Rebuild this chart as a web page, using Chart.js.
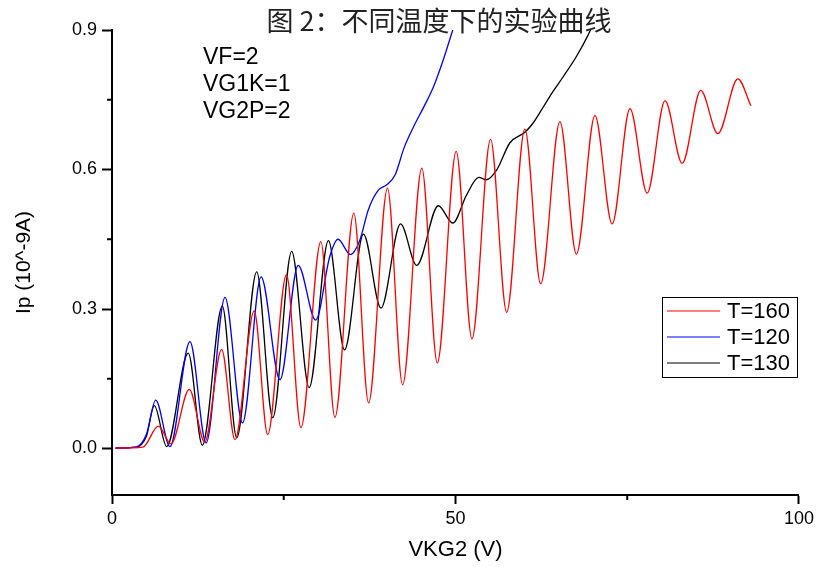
<!DOCTYPE html>
<html>
<head>
<meta charset="utf-8">
<script src="https://cdn.jsdelivr.net/npm/chart.js@4"></script>
<style>
  body { margin: 0; background: #fff; }
  #wrap { width: 818px; height: 567px; }
</style>
</head>
<body>
<div id="wrap"><canvas id="fhChart" width="818" height="567"></canvas></div>
<script>
var titleText = "图 2：不同温度下的实验曲线";
var notes = ["VF=2", "VG1K=1", "VG2P=2"];
var seriesLabels = ["T=160", "T=120", "T=130"];
var seriesColors = ["#ff0000", "#0000ff", "#000000"];
var legendColors = ["rgba(255,0,0,0.5)", "rgba(0,0,255,0.5)", "rgba(0,0,0,0.5)"];

// T=160
var redX = [0.5, 4.5, 6.74, 8.6, 11.25, 13.5, 15.96, 17.9, 20.7, 22.66, 25.4, 27.5, 30.4, 32.45, 35.2, 37.35,
  40.1, 42.3, 45.1, 47.35, 50.1, 52.4, 55.1, 57.45, 60.1, 62.4, 65.2, 67.6, 70.3, 72.8, 75.4, 77.9,
  80.5, 83.0, 85.7, 88.2, 91.1, 93.0];
var redY = [0.001, 0.003, 0.048, 0.010, 0.127, 0.014, 0.213, 0.019, 0.296, 0.030, 0.374, 0.045, 0.445, 0.067, 0.506, 0.098,
  0.560, 0.137, 0.603, 0.184, 0.639, 0.236, 0.665, 0.293, 0.687, 0.354, 0.703, 0.418, 0.716, 0.483, 0.731, 0.549,
  0.748, 0.613, 0.770, 0.677, 0.795, 0.737];

// T=120
var blueX = [0.5, 3.5, 5.0, 6.36, 8.44, 11.35, 13.7, 16.45, 19.0, 21.7, 24.45, 27.1, 29.65, 31.7, 32.9, 34.7,
  36.1, 37.3, 38.8, 40.0, 41.2, 42.5, 43.9, 45.3, 46.8, 48.2, 49.6];
var blueY = [0.001, 0.003, 0.030, 0.104, 0.004, 0.230, 0.012, 0.325, 0.055, 0.369, 0.148, 0.394, 0.276, 0.413, 0.450, 0.417,
  0.449, 0.513, 0.556, 0.567, 0.588, 0.646, 0.692, 0.732, 0.778, 0.835, 0.900];

// T=130
var blackX = [0.5, 3.5, 5.0, 6.16, 7.96, 11.1, 13.15, 16.06, 18.15, 21.06, 23.4, 26.15, 28.7, 31.5, 33.85, 36.6,
  39.15, 42.0, 44.35, 47.5, 49.6, 51.6, 53.4, 54.5, 56.0, 57.9, 60.1, 61.3, 62.8, 64.2, 65.7, 67.6, 69.3, 69.8];
var blackY = [0.001, 0.003, 0.026, 0.092, 0.004, 0.205, 0.007, 0.306, 0.023, 0.380, 0.066, 0.424, 0.131, 0.447, 0.212, 0.461,
  0.302, 0.483, 0.394, 0.522, 0.485, 0.545, 0.583, 0.578, 0.599, 0.657, 0.680, 0.700, 0.735, 0.768, 0.800, 0.843, 0.889, 0.905];

var xTicks = [0, 50, 100];
var xMinor = [25, 75];
var yTicks = [0, 0.3, 0.6, 0.9];
var yMinor = [0.15, 0.45, 0.75];

function makeSet(i, xs, ys) {
  return {
    label: seriesLabels[i],
    data: xs.map(function (x, k) { return { x: x, y: ys[k] }; }),
    borderColor: seriesColors[i],
    borderWidth: 1.3,
    pointRadius: 0,
    fill: false,
    cubicInterpolationMode: 'monotone'
  };
}

// title, notes, minor ticks and the boxed legend
var decor = {
  id: 'decor',
  afterDraw: function (chart) {
    var c = chart.ctx;
    var xs = chart.scales.x, ys = chart.scales.y;
    c.save();
    c.strokeStyle = '#000';
    c.lineWidth = 2;
    xMinor.forEach(function (v) {
      var px = xs.getPixelForValue(v);
      c.beginPath(); c.moveTo(px, xs.top); c.lineTo(px, xs.top + 5); c.stroke();
    });
    yMinor.forEach(function (v) {
      var py = ys.getPixelForValue(v);
      c.beginPath(); c.moveTo(ys.right - 5, py); c.lineTo(ys.right, py); c.stroke();
    });

    c.fillStyle = '#222';
    c.textAlign = 'center';
    c.textBaseline = 'middle';
    c.font = "27px 'Noto Sans CJK SC'";
    c.fillText(titleText, 439, 21);

    c.fillStyle = '#000';
    c.textAlign = 'left';
    c.font = "23px 'Liberation Sans'";
    notes.forEach(function (t, k) { c.fillText(t, 203, 58 + k * 27); });

    c.lineWidth = 1;
    c.strokeRect(662.5, 297.5, 135, 80);
    c.font = "22px 'Liberation Sans'";
    chart.data.datasets.forEach(function (ds, k) {
      var yy = 311 + k * 26;
      c.strokeStyle = legendColors[k];
      c.lineWidth = 2;
      c.beginPath(); c.moveTo(667, yy); c.lineTo(720, yy); c.stroke();
      c.fillText(ds.label, 727, yy + 1);
    });
    c.restore();
  }
};

var ctx = document.getElementById("fhChart");
var fhChart = new Chart(ctx, {
  type: 'line',
  data: {
    datasets: [
      makeSet(0, redX, redY),
      makeSet(1, blueX, blueY),
      makeSet(2, blackX, blackY)
    ]
  },
  options: {
    responsive: false,
    animation: false,
    layout: { padding: { top: 30, right: 19, left: 0, bottom: 0 } },
    plugins: {
      legend: { display: false },
      tooltip: { enabled: false }
    },
    scales: {
      x: {
        type: 'linear',
        min: 0,
        max: 100,
        afterBuildTicks: function (s) { s.ticks = xTicks.map(function (v) { return { value: v }; }); },
        afterFit: function (s) { s.height = 72; },
        grid: { drawOnChartArea: false, drawTicks: true, tickLength: 9, tickWidth: 2, tickColor: '#000' },
        border: { display: true, color: '#000', width: 2 },
        ticks: { color: '#000', font: { family: 'Liberation Sans', size: 18 }, padding: 4, maxRotation: 0 },
        title: { display: true, text: 'VKG2 (V)', color: '#000', font: { family: 'Liberation Sans', size: 22 }, padding: { top: 0, bottom: 4 } }
      },
      y: {
        type: 'linear',
        min: -0.1,
        max: 0.9,
        afterBuildTicks: function (s) { s.ticks = yTicks.map(function (v) { return { value: v }; }); },
        afterFit: function (s) { s.width = 112; },
        grid: { drawOnChartArea: false, drawTicks: true, tickLength: 10, tickWidth: 2, tickColor: '#000' },
        border: { display: true, color: '#000', width: 2 },
        ticks: {
          color: '#000', font: { family: 'Liberation Sans', size: 18 }, padding: 5,
          callback: function (v) { return v.toFixed(1); }
        },
        title: { display: true, text: 'Ip (10^-9A)', color: '#000', font: { family: 'Liberation Sans', size: 21 }, padding: { top: 12, bottom: 0 } }
      }
    }
  },
  plugins: [decor]
});
</script>
</body>
</html>
